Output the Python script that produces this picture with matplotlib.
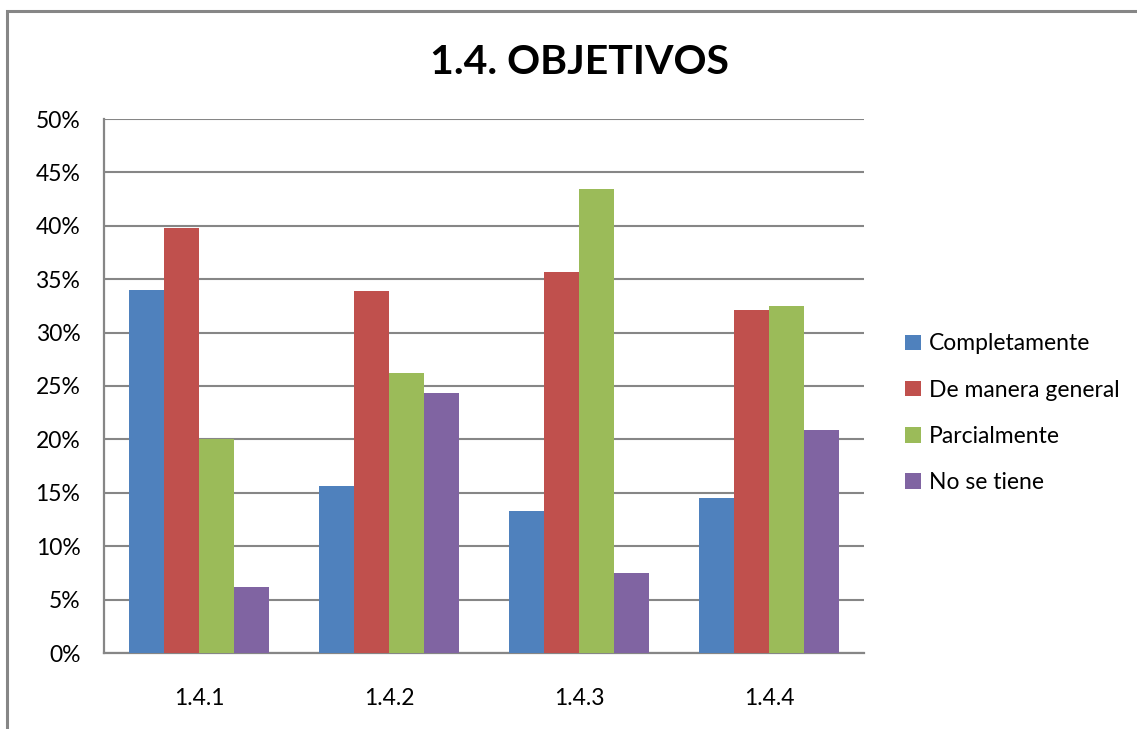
import matplotlib.pyplot as plt
from matplotlib.patches import Rectangle
from matplotlib.ticker import FuncFormatter
import numpy as np

plt.rcParams['font.family'] = ['Lato', 'DejaVu Sans']

categories = ['1.4.1', '1.4.2', '1.4.3', '1.4.4']
series_names = ['Completamente', 'De manera general', 'Parcialmente', 'No se tiene']
completamente = [34.0, 15.6, 13.3, 14.5]
de_manera_general = [39.8, 33.9, 35.7, 32.1]
parcialmente = [20.0, 26.2, 43.4, 32.5]
no_se_tiene = [6.2, 24.3, 7.5, 20.9]
colors = ['#4F81BD', '#C0504D', '#9BBB59', '#8064A2']

series = [completamente, de_manera_general, parcialmente, no_se_tiene]

fig = plt.figure(figsize=(11.37, 7.29), dpi=100)
ax = fig.add_axes([104 / 1137, 1 - 653 / 729, 760 / 1137, 534 / 729])

# outer chart border (cut off at right and bottom)
fig.patches.append(Rectangle((6.5 / 1137, -0.05), 1.2, 1 - 10.5 / 729 + 0.05,
                             transform=fig.transFigure, fill=False,
                             edgecolor='#868686', linewidth=2.2))

x = np.arange(len(categories))
w = 0.183
for i, (vals, name, c) in enumerate(zip(series, series_names, colors)):
    ax.bar(x + (i - 1.5) * w, vals, w, color=c, label=name, zorder=3)

ax.set_xlim(-0.5, 3.5)
ax.set_ylim(0, 50)
ax.set_yticks(np.arange(0, 51, 5))
ax.yaxis.set_major_formatter(FuncFormatter(lambda v, p: f'{v:.0f}%'))
ax.set_xticks(x)
ax.set_xticklabels(categories)
ax.grid(axis='y', color='#868686', linewidth=1.5, zorder=0)
for s in ['top', 'right']:
    ax.spines[s].set_visible(False)
for s in ['left', 'bottom']:
    ax.spines[s].set_color('#868686')
    ax.spines[s].set_linewidth(1.6)
ax.tick_params(axis='both', length=0, labelsize=16.5)
ax.tick_params(axis='y', pad=17)
ax.tick_params(axis='x', pad=25)

fig.text(580 / 1137, 1 - 62 / 729, '1.4. OBJETIVOS', ha='center', va='center',
         fontsize=29.5, fontweight='bold')

ax.legend(loc='center left', bbox_to_anchor=(1.054, 0.449), frameon=False,
          fontsize=16.5, handlelength=0.68, handleheight=0.68,
          handletextpad=0.35, labelspacing=1.1, borderpad=0, borderaxespad=0)

fig.savefig('out.png', dpi=100)
